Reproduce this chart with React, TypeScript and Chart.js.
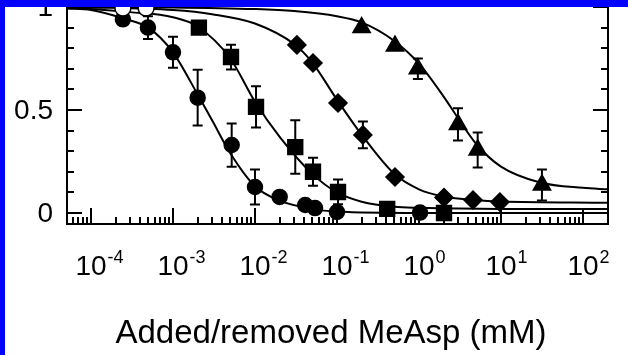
import React, { useEffect, useRef } from "react";
import { Chart, registerables } from "chart.js";
Chart.register(...registerables);

// ---- axis ranges / tick labels ----
const X_MIN = 5.1e-5;
const X_MAX = 202;
const Y_MIN = -0.0534;
const Y_MAX = 1.029;
const xTickExponents = [-4, -3, -2, -1, 0, 1, 2];
const yTickValues = [0, 0.5, 1];
const yTickLabels = ["0", "0.5", "1"];
const axisTitle = "Added/removed MeAsp (mM)";

// ---- measured points ----
const circleX = [2.45e-4, 4.95e-4, 1.0e-3, 2.0e-3, 5.2e-3, 1.0e-2, 2.0e-2, 4.1e-2, 5.4e-2, 0.1, 1.03];
const circleY = [0.94, 0.9, 0.78, 0.56, 0.33, 0.126, 0.078, 0.039, 0.024, 0.005, 0.002];
const circleErr = [0, 0.055, 0.075, 0.135, 0.105, 0.085, 0, 0, 0, 0, 0];

const openCircleX = [2.45e-4, 4.7e-4];
const openCircleY = [0.995, 0.995];

const squareX = [2.07e-3, 5.1e-3, 1.03e-2, 3.1e-2, 5.1e-2, 0.103, 0.41, 2.02];
const squareY = [0.9, 0.757, 0.515, 0.32, 0.2, 0.102, 0.02, 0.0];
const squareErr = [0, 0.06, 0.1, 0.13, 0.068, 0.06, 0, 0];

const diamondX = [0.0325, 0.051, 0.103, 0.207, 0.51, 2.02, 4.56, 9.7];
const diamondY = [0.816, 0.728, 0.534, 0.379, 0.175, 0.075, 0.063, 0.053];
const diamondErr = [0, 0, 0, 0.065, 0, 0, 0, 0];

const triangleX = [0.2, 0.51, 0.97, 2.99, 5.2, 31.6];
const triangleY = [0.9, 0.81, 0.7, 0.43, 0.306, 0.136];
const triangleErr = [0, 0, 0.05, 0.078, 0.085, 0.075];

// ---- fitted curves ----
const curveCircleX = [5.1e-5, 1e-4, 2.45e-4, 5e-4, 1e-3, 2e-3, 3e-3, 5e-3, 1e-2, 2e-2, 5e-2, 1e-1, 1, 202];
const curveCircleY = [0.993, 0.985, 0.945, 0.9, 0.78, 0.575, 0.45, 0.29, 0.13, 0.06, 0.02, 0.007, 0.0, 0.0];

const curveSquareX = [5.1e-5, 1e-4, 3e-4, 1e-3, 2e-3, 5e-3, 1e-2, 2e-2, 5e-2, 1e-1, 2e-1, 5e-1, 1, 10, 202];
const curveSquareY = [0.995, 0.99, 0.975, 0.95, 0.905, 0.75, 0.54, 0.37, 0.19, 0.1, 0.055, 0.03, 0.025, 0.02, 0.02];

const curveDiamondX = [5.1e-5, 1e-4, 1e-3, 3e-3, 1e-2, 3e-2, 5e-2, 1e-1, 2e-1, 5e-1, 1, 2, 5, 10, 202];
const curveDiamondY = [1.0, 0.998, 0.985, 0.965, 0.92, 0.82, 0.73, 0.55, 0.38, 0.19, 0.115, 0.08, 0.062, 0.056, 0.05];

const curveTriangleX = [5.1e-5, 1e-3, 1e-2, 3e-2, 0.1, 0.2, 0.5, 1, 2, 3, 5, 10, 30, 100, 202];
const curveTriangleY = [1.0, 0.998, 0.99, 0.98, 0.955, 0.925, 0.835, 0.725, 0.565, 0.46, 0.335, 0.225, 0.148, 0.122, 0.115];

const pts = (xs: number[], ys: number[]) => xs.map((x, i) => ({ x, y: ys[i] }));

const errorSeries = [
  { xs: circleX, ys: circleY, es: circleErr },
  { xs: squareX, ys: squareY, es: squareErr },
  { xs: diamondX, ys: diamondY, es: diamondErr },
  { xs: triangleX, ys: triangleY, es: triangleErr },
];

const FONT = "'Liberation Sans', Arial, Helvetica, sans-serif";

const errorBarPlugin = {
  id: "errorBars",
  afterDatasetsDraw(chart: any) {
    const { ctx, scales } = chart;
    const x = scales.x;
    const y = scales.y;
    ctx.save();
    ctx.strokeStyle = "#000";
    ctx.lineWidth = 2;
    errorSeries.forEach((s) => {
      s.xs.forEach((xv, i) => {
        const e = s.es[i];
        if (!e) return;
        const px = x.getPixelForValue(xv);
        const top = y.getPixelForValue(s.ys[i] + e);
        const bot = y.getPixelForValue(s.ys[i] - e);
        ctx.beginPath();
        ctx.moveTo(px, top);
        ctx.lineTo(px, bot);
        ctx.moveTo(px - 5, top);
        ctx.lineTo(px + 5, top);
        ctx.moveTo(px - 5, bot);
        ctx.lineTo(px + 5, bot);
        ctx.stroke();
      });
    });
    ctx.restore();
  },
};

const framePlugin = {
  id: "frame",
  afterDraw(chart: any) {
    const { ctx, chartArea: a, scales } = chart;
    const x = scales.x;
    const y = scales.y;
    ctx.save();
    ctx.strokeStyle = "#000";
    ctx.lineWidth = 2;
    ctx.beginPath();
    ctx.moveTo(a.left, a.top);
    ctx.lineTo(a.left, a.bottom);
    ctx.lineTo(a.right, a.bottom);
    ctx.lineTo(a.right, a.top);
    ctx.closePath();
    ctx.stroke();

    // x ticks (inward)
    ctx.beginPath();
    for (let e = -5; e <= 2; e++) {
      for (let m = 1; m <= 9; m++) {
        const v = m * Math.pow(10, e);
        if (v < X_MIN || v > X_MAX) continue;
        const px = Math.round(x.getPixelForValue(v));
        const len = m === 1 ? 16 : 7;
        ctx.moveTo(px, a.bottom);
        ctx.lineTo(px, a.bottom - len);
      }
    }
    // y ticks (inward), both sides
    for (let k = 0; k <= 10; k++) {
      const v = k / 10;
      const py = Math.round(y.getPixelForValue(v));
      const len = k % 5 === 0 ? 15 : 7;
      ctx.moveTo(a.left, py);
      ctx.lineTo(a.left + len, py);
      ctx.moveTo(a.right, py);
      ctx.lineTo(a.right - len, py);
    }
    ctx.stroke();

    // labels
    ctx.fillStyle = "#000";
    ctx.textBaseline = "middle";
    ctx.textAlign = "right";
    ctx.font = `28px ${FONT}`;
    yTickValues.forEach((v, i) => {
      ctx.fillText(yTickLabels[i], a.left - 14, y.getPixelForValue(v) + 1);
    });

    ctx.textBaseline = "alphabetic";
    xTickExponents.forEach((ex) => {
      const px = x.getPixelForValue(Math.pow(10, ex));
      ctx.font = `28px ${FONT}`;
      ctx.textAlign = "center";
      ctx.fillText("10", px, 275);
      const w = ctx.measureText("10").width;
      ctx.font = `18px ${FONT}`;
      ctx.textAlign = "left";
      ctx.fillText(String(ex), px + w / 2 + 1, 263);
    });

    ctx.font = `33px ${FONT}`;
    ctx.textAlign = "center";
    ctx.fillText(axisTitle, 331, 343);

    // frame of the original scan
    ctx.fillStyle = "#0000ff";
    ctx.fillRect(0, 0, chart.width, 7);
    ctx.fillRect(0, 0, 5, chart.height);
    ctx.restore();
  },
};

export default function App() {
  const ref = useRef<HTMLCanvasElement>(null);
  useEffect(() => {
    const curve = (xs: number[], ys: number[]) => ({
      type: "line" as const,
      data: pts(xs, ys),
      showLine: true,
      borderColor: "#000",
      borderWidth: 2,
      pointRadius: 0,
      cubicInterpolationMode: "monotone" as const,
      fill: false,
    });
    const marker = (xs: number[], ys: number[], style: string, r: number, bg = "#000") => ({
      data: pts(xs, ys),
      showLine: false,
      pointStyle: style,
      pointRadius: r,
      pointBackgroundColor: bg,
      pointBorderColor: "#000",
      pointBorderWidth: 1.5,
    });
    const chart = new Chart(ref.current as HTMLCanvasElement, {
      type: "scatter",
      data: {
        datasets: [
          marker(openCircleX, openCircleY, "circle", 8, "#fff"),
          marker(circleX, circleY, "circle", 7.5),
          marker(squareX, squareY, "rect", 10.5),
          marker(diamondX, diamondY, "rectRot", 9),
          marker(triangleX, triangleY, "triangle", 10),
          curve(curveCircleX, curveCircleY),
          curve(curveSquareX, curveSquareY),
          curve(curveDiamondX, curveDiamondY),
          curve(curveTriangleX, curveTriangleY),
        ] as any,
      },
      options: {
        responsive: false,
        animation: false,
        devicePixelRatio: 1,
        layout: { autoPadding: false, padding: { left: 67, right: 20, top: 1, bottom: 131 } },
        plugins: { legend: { display: false }, tooltip: { enabled: false } },
        scales: {
          x: { type: "logarithmic", min: X_MIN, max: X_MAX, display: false },
          y: { type: "linear", min: Y_MIN, max: Y_MAX, display: false },
        },
      } as any,
      plugins: [errorBarPlugin, framePlugin],
    });
    return () => chart.destroy();
  }, []);
  return (
    <div style={{ position: "fixed", left: 0, top: 0, width: 628, height: 355, background: "#fff" }}>
      <canvas ref={ref} width={628} height={355} style={{ display: "block" }} />
    </div>
  );
}
